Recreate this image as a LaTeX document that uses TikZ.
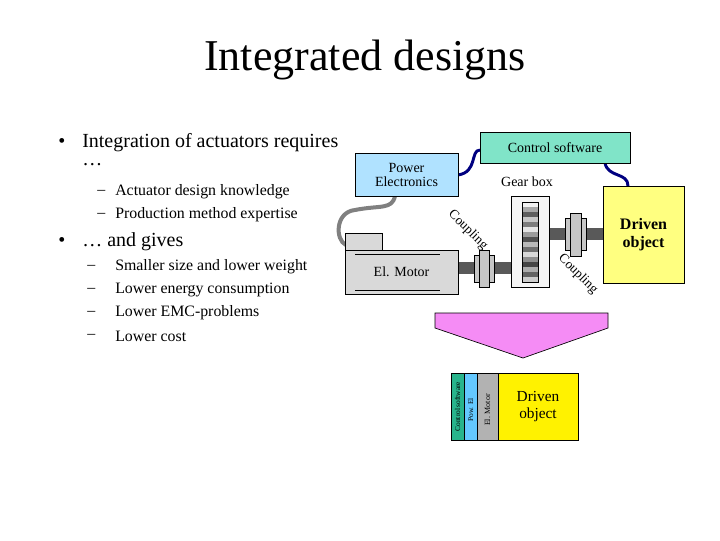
\documentclass[tikz,border=0pt]{standalone}
\usepackage{fontspec}
\setmainfont{Liberation Serif}
\begin{document}
\begin{tikzpicture}[x=0.75pt,y=-0.75pt,
  box/.style={draw=black,line width=0.5pt},
  cable/.style={line width=2.2pt,color=blue!50!black},
  gcable/.style={line width=3pt,color=gray},
  txt/.style={inner sep=0pt,anchor=west,font=\fontsize{15}{17}\selectfont},
  sub/.style={inner sep=0pt,anchor=west,font=\fontsize{11.9}{14}\selectfont}]
\useasboundingbox (0,0) rectangle (720,540);
\node (title) at (365,60) {\fontsize{33}{38}\selectfont Integrated designs};
% bullets
\node[txt] (b1) at (58,143) {•};
\node[txt] (t1) at (82,143) {Integration of actuators requires};
\node[txt] (t1b) at (82,165) {…};
\node[sub] (d1) at (97,192) {–};
\node[sub] (s1) at (115,192) {Actuator design knowledge};
\node[sub] (d2) at (97,215) {–};
\node[sub] (s2) at (115,215) {Production method expertise};
\node[txt] (b2) at (58,242) {•};
\node[txt] (t2) at (82,242) {… and gives};
\foreach \y/\t [count=\i] in {267/Smaller size and lower weight,290/Lower energy consumption,313/Lower EMC-problems,336/Lower cost}{
  \node[sub] (e\i) at (87,\y) {–};
  \node[sub] (g\i) at (115,\y) {\t};}
% cables
\draw[cable] (458,175) .. controls (478,172) and (470,150) .. (480,150);
\draw[cable] (605,163) .. controls (608,178) and (628,172) .. (628,186);
\draw[gcable] (395,196) .. controls (392,210) and (380,205) .. (355,210) .. controls (335,212) and (335,240) .. (346,245);
% boxes
\node[box,fill={rgb,255:red,128;green,228;blue,200},minimum width=150*0.75pt,minimum height=31*0.75pt] (cs) at (555,148) {\fontsize{10.5}{12}\selectfont Control software};
\node[box,fill={rgb,255:red,176;green,226;blue,255},minimum width=103*0.75pt,minimum height=43*0.75pt,align=center] (pe) at (406.5,175) {\fontsize{10.5}{12}\selectfont Power\\[-1pt]\fontsize{10.5}{12}\selectfont Electronics};
\node (gb) at (527,182) {\fontsize{10.5}{12}\selectfont Gear box};
% shafts
\fill[gray!70!black] (458,262) rectangle (511,274);
\fill[gray!70!black] (549,228) rectangle (603,240);
\draw[box,fill=gray!45] (474,255) rectangle (494,282);
\draw[box,fill=gray!45] (479,250) rectangle (489,287);
\draw[box,fill=gray!45] (565,218) rectangle (586,250);
\draw[box,fill=gray!45] (570,213) rectangle (581,256);
% gearbox
\draw[box,fill=gray!8] (511,196) rectangle (549,287);
\foreach \i in {0,...,15}{
  \pgfmathsetmacro{\c}{mod(\i*29,70)+5}
  \fill[black!\c] (522,202+5*\i) rectangle (538,207+5*\i);}
\draw[box] (522,202) rectangle (538,282);
% motor
\draw[box,fill=gray!30] (345,233) rectangle (382,251);
\node[box,fill=gray!30,minimum width=113*0.75pt,minimum height=44*0.75pt] (mot) at (401.5,272) {\fontsize{10.5}{12}\selectfont El. Motor};
\draw (355,254) -- (440,254) (355,290) -- (440,290);
% driven
\node[box,fill={rgb,255:red,255;green,255;blue,128},minimum width=81*0.75pt,minimum height=97*0.75pt,align=center,font=\bfseries\fontsize{12}{14}\selectfont] (dr) at (643.5,234.5) {Driven\\object};
% coupling labels
\node[rotate=-45,font=\fontsize{10}{12}\selectfont,inner sep=0pt] (c1) at (468,230) {Coupling};
\node[rotate=-45,font=\fontsize{10}{12}\selectfont,inner sep=0pt] (c2) at (578,274) {Coupling};
% arrow
\draw[box,fill={rgb,255:red,245;green,140;blue,245}] (435,313) -- (608,313) -- (608,328) -- (523,358) -- (435,328) -- cycle;
% stack
\draw[box,fill={rgb,255:red,40;green,180;blue,140}] (451,373) rectangle (464,440);
\draw[box,fill={rgb,255:red,100;green,200;blue,255}] (464,373) rectangle (477,440);
\draw[box,fill=gray!60] (477,373) rectangle (498,440);
\node[box,fill=yellow,minimum width=80*0.75pt,minimum height=67*0.75pt,align=center,font=\fontsize{11.5}{13}\selectfont] (dr2) at (538,406.5) {Driven\\object};
\node[rotate=90,font=\fontsize{5.5}{6}\selectfont,inner sep=0pt] (l1) at (457.5,406.5) {Control software};
\node[rotate=90,font=\fontsize{5.5}{6}\selectfont,inner sep=0pt] (l2) at (470.5,410) {Pow. El};
\node[rotate=90,font=\fontsize{6}{7}\selectfont,inner sep=0pt] (l3) at (487.5,410) {El. Motor};
\end{tikzpicture}
\end{document}
